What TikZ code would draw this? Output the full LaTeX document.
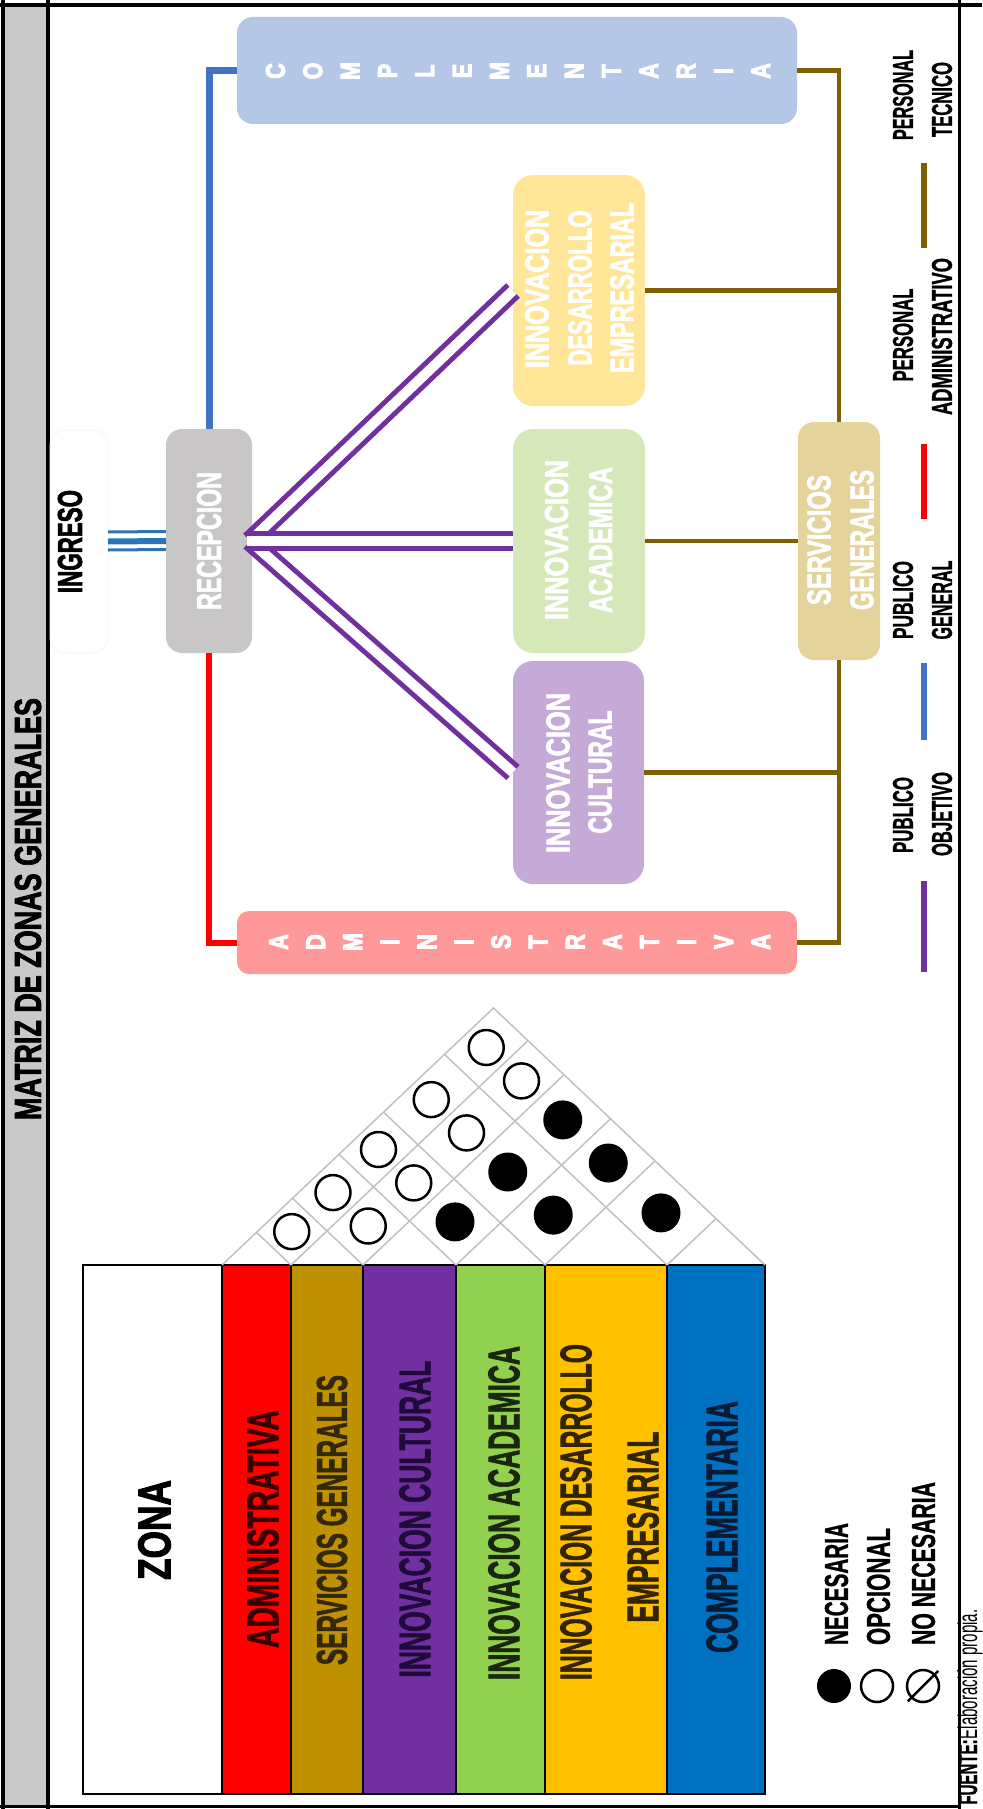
\documentclass[tikz,border=0pt]{standalone}
\usepackage{fontspec}
\setmainfont{Liberation Sans}
\newfontfamily\hvA{Liberation Sans}[BoldFeatures={FakeBold=2.5}]
\newfontfamily\hvB{Liberation Sans}[BoldFeatures={FakeBold=1.2}]
\newfontfamily\hvC{Liberation Sans}[BoldFeatures={FakeBold=2}]
\newfontfamily\hvD{Liberation Sans}[BoldFeatures={FakeBold=4}]
\usepackage{graphicx}
\newdimen\pxu \pxu=0.5pt
\newcommand\fitt[3]{\resizebox{#1\pxu}{#2\pxu}{\hvB\bfseries #3}}
\newcommand\fith[3]{\resizebox{#1\pxu}{#2\pxu}{\hvA\bfseries #3}}
\newcommand\fitz[3]{\resizebox{#1\pxu}{#2\pxu}{\hvC\bfseries #3}}
\newcommand\spl[1]{\scalebox{0.8}[1]{\fontsize{13.5pt}{14pt}\selectfont\hvD\bfseries #1}}
\definecolor{stripgray}{HTML}{C9C9C9}
\definecolor{compc}{HTML}{B4C7E7}
\definecolor{admc}{HTML}{FF9999}
\definecolor{recc}{HTML}{C8C6C6}
\definecolor{acadc}{HTML}{D5E8BA}
\definecolor{cultc}{HTML}{C5A9D7}
\definecolor{desac}{HTML}{FFE699}
\definecolor{servc}{HTML}{E4D39B}
\definecolor{lpurple}{HTML}{7030A0}
\definecolor{lblue}{HTML}{4472C4}
\definecolor{lred}{HTML}{FF0000}
\definecolor{lbrown}{HTML}{7F6000}
\definecolor{ingblue}{HTML}{2E75B6}
\definecolor{zred}{HTML}{FF0000}
\definecolor{zgold}{HTML}{BF9000}
\definecolor{zpurple}{HTML}{7030A0}
\definecolor{zgreen}{HTML}{92D050}
\definecolor{zyellow}{HTML}{FFC000}
\definecolor{zblue}{HTML}{0070C0}
\definecolor{gridc}{HTML}{C0C0C0}
\definecolor{tadm}{HTML}{3A0000}
\definecolor{tserv}{HTML}{33280A}
\definecolor{tcult}{HTML}{1F0A3A}
\definecolor{tacad}{HTML}{1A260E}
\definecolor{tdes}{HTML}{332400}
\definecolor{tcomp}{HTML}{0A1A33}
\begin{document}
\begin{tikzpicture}[x=0.5pt,y=-0.5pt,
  box/.style={rectangle, rounded corners=8pt, inner sep=0pt, outer sep=0pt},
  txt/.style={rotate=90, inner sep=0pt, outer sep=0pt},
  cell/.style={rectangle, draw=black, line width=0.75pt, inner sep=0pt, outer sep=0pt, minimum height=264.5pt},
  dbl/.style={draw=lpurple, line width=2.5pt, double=white, double distance=5pt},
  bluec/.style={draw=lblue, line width=3.5pt},
  redc/.style={draw=lred, line width=3pt},
  brownc/.style={draw=lbrown, line width=2.25pt},
  grid/.style={draw=gridc, line width=0.75pt},
  opn/.style={circle, draw=black, line width=1.25pt, fill=white, inner sep=0pt, minimum size=17.5pt},
  fil/.style={circle, fill=black, inner sep=0pt, minimum size=19.5pt}]
\useasboundingbox (0,0) rectangle (982,1809);
% frame
\fill[stripgray] (3,5) rectangle (48,1806);
\draw[line width=1.75pt] (0,5) -- (982,5);
\draw[line width=1.75pt] (3,0) -- (3,1809);
\draw[line width=1.75pt] (48,0) -- (48,1809);
\draw[line width=1.5pt] (959,0) -- (959,1809);
\draw[line width=1.5pt] (0,1806) -- (959,1806);
\node[txt] (title) at (28,909) {\fith{422}{26}{MATRIZ DE ZONAS GENERALES}};
% boxes
\node[box, fill=white, draw=gray!6, line width=0.5pt, minimum width=29pt, minimum height=111.5pt] (ingbox) at (79,541.5) {};
\node[box, fill=compc, minimum width=280pt, minimum height=53.5pt] (comp) at (517,70.5) {};
\node[box, fill=admc, rounded corners=6pt, minimum width=280pt, minimum height=31.5pt] (admin) at (517,942.5) {};
\node[box, fill=recc, minimum width=43pt, minimum height=112pt] (recep) at (209,541) {};
\node[box, fill=acadc, rounded corners=10pt, minimum width=66pt, minimum height=112pt] (acad) at (579,541) {};
\node[box, fill=cultc, rounded corners=10pt, minimum width=65.5pt, minimum height=111.5pt] (cult) at (578.5,772.5) {};
\node[box, fill=desac, rounded corners=10pt, minimum width=66pt, minimum height=115.5pt] (desa) at (579,290.5) {};
\node[box, fill=servc, minimum width=41pt, minimum height=119pt] (serv) at (839,541) {};
% connectors
\draw[bluec] (recep.north) |- (comp.west);
\draw[redc] (recep.south) |- (admin.west);
\draw[brownc] (comp.east) -| (serv.north);
\draw[brownc] (serv.south) |- (admin.east);
\draw[brownc] (acad.east) -- (serv.west);
\draw[brownc] (desa.east) -- (desa.east -| serv.north);
\draw[brownc] (cult.east) -- (cult.east -| serv.north);
\coordinate (hub) at ([xshift=-1pt]recep.east);
\draw[dbl] (hub) -- (desa.west);
\draw[dbl] (hub) -- (cult.west);
\draw[dbl] ([xshift=-2.5pt]recep.east) -- (acad.west);
% ingreso
\draw[ingblue, line width=1.5pt] ([yshift=4.75pt]ingbox.east) -- ([yshift=4.75pt]recep.west);
\draw[ingblue, line width=3pt] (ingbox.east) -- (recep.west);
\draw[ingblue, line width=1.5pt] ([yshift=-4.25pt]ingbox.east) -- ([yshift=-4.25pt]recep.west);
\node[txt] (ingt) at (70,541.5) {\fith{103}{24}{INGRESO}};
% box texts
\foreach \l [count=\i from 0] in {C,O,M,P,L,E,M,E,N,T,A,R,I,A}
  \node[txt, text=white] (cl\i) at ({275.5+37.33*\i},71) {\spl{\l}};
\foreach \l [count=\i from 0] in {A,D,M,I,N,I,S,T,R,A,T,I,V,A}
  \node[txt, text=white] (al\i) at ({278.6+37.09*\i},942) {\spl{\l}};
\node[txt, text=white] (rect) at (209,541) {\fith{138}{24}{RECEPCION}};
\node[txt, text=white] (acad1) at (556.5,540) {\fith{160}{23}{INNOVACION}};
\node[txt, text=white] (acad2) at (600.5,540) {\fith{146}{23}{ACADEMICA}};
\node[txt, text=white] (cult1) at (558,773) {\fith{160}{23}{INNOVACION}};
\node[txt, text=white] (cult2) at (600,772) {\fith{123}{23}{CULTURAL}};
\node[txt, text=white] (desa1) at (537,289) {\fith{158}{23}{INNOVACION}};
\node[txt, text=white] (desa2) at (580,288) {\fith{155}{23}{DESARROLLO}};
\node[txt, text=white] (desa3) at (622,288) {\fith{170}{23}{EMPRESARIAL}};
\node[txt, text=white] (serv1) at (819,540) {\fith{130}{23}{SERVICIOS}};
\node[txt, text=white] (serv2) at (862,540) {\fith{140}{23}{GENERALES}};
% legend right
\draw[lbrown, line width=3pt] (923.5,163) -- (923.5,248);
\draw[lred, line width=3pt] (923.5,444) -- (923.5,519);
\draw[lblue, line width=3pt] (923.5,663) -- (923.5,740);
\draw[lpurple, line width=3pt] (923.5,881) -- (923.5,972);
\node[txt] (lg1a) at (903,95) {\fitt{90}{20}{PERSONAL}};
\node[txt] (lg1b) at (942,99.5) {\fitt{75}{20}{TECNICO}};
\node[txt] (lg2a) at (903,335) {\fitt{93}{20}{PERSONAL}};
\node[txt] (lg2b) at (942,336.5) {\fitt{157}{20}{ADMINISTRATIVO}};
\node[txt] (lg3a) at (903,600) {\fitt{78}{20}{PUBLICO}};
\node[txt] (lg3b) at (942,600) {\fitt{79}{20}{GENERAL}};
\node[txt] (lg4a) at (903,815) {\fitt{76}{20}{PUBLICO}};
\node[txt] (lg4b) at (942,814) {\fitt{84}{20}{OBJETIVO}};
% zone table
\node[cell, fill=white, minimum width=69.5pt] (zona) at (152.5,1529.5) {};
\node[cell, fill=zred, minimum width=34.5pt] (z1) at (256.5,1529.5) {};
\node[cell, fill=zgold, minimum width=36pt] (z2) at (327,1529.5) {};
\node[cell, fill=zpurple, minimum width=46.5pt] (z3) at (409.5,1529.5) {};
\node[cell, fill=zgreen, minimum width=44.5pt] (z4) at (500.5,1529.5) {};
\node[cell, fill=zyellow, minimum width=61pt] (z5) at (606,1529.5) {};
\node[cell, fill=zblue, minimum width=49pt] (z6) at (716,1529.5) {};
\draw[line width=1.25pt] (zona.north west) rectangle (z6.south east);
\node[txt] (tz) at (154.5,1530) {\fith{100}{32}{ZONA}};
\node[txt, text=tadm] (tz1) at (263,1529) {\fitz{238}{31}{ADMINISTRATIVA}};
\node[txt, text=tserv] (tz2) at (332,1520) {\fitz{290}{30}{SERVICIOS GENERALES}};
\node[txt, text=tcult] (tz3) at (415,1519) {\fitz{317}{31}{INNOVACION CULTURAL}};
\node[txt, text=tacad] (tz4) at (504,1513) {\fitz{334}{31}{INNOVACION ACADEMICA}};
\node[txt, text=tdes] (tz5a) at (576,1512) {\fitz{336}{31}{INNOVACION DESARROLLO}};
\node[txt, text=tdes] (tz5b) at (643,1527) {\fitz{191}{31}{EMPRESARIAL}};
\node[txt, text=tcomp] (tz6) at (722,1527) {\fitz{252}{31}{COMPLEMENTARIA}};
% triangle grid
\foreach \b in {291,363,456,545,667}{
  \draw[grid] (\b,1265) -- ({(\b+765)/2},{1265-0.9466*(765-\b)/2});
  \draw[grid] (\b,1265) -- ({(\b+222)/2},{1265-0.9466*(\b-222)/2});
}
\draw[grid] (222,1265) -- (493.5,1008) -- (765,1265);
\foreach \x/\y [count=\i] in {291.75/1231.6, 333/1192.6, 378.5/1149.5, 431.25/1099.6, 486.25/1047.5, 368.25/1226, 413.75/1182.9, 466.5/1132.9, 521.5/1080.9}
  \node[opn] (o\i) at (\x,\y) {};
\foreach \x/\y [count=\i] in {455/1221.9, 507.75/1172, 562.75/1119.9, 553.25/1215.1, 608.25/1163, 661/1212.9}
  \node[fil] (f\i) at (\x,\y) {};
% legend bottom
\node[fil, minimum size=17pt] (lgn) at (834,1686) {};
\node[opn, minimum size=16pt] (lgo) at (877,1686) {};
\node[opn, minimum size=16pt] (lgx) at (923,1686) {};
\draw[line width=1.25pt] ([shift={(-1.5pt,-1.5pt)}]lgx.south west) -- ([shift={(1.5pt,1.5pt)}]lgx.north east);
\node[txt] (lt1) at (836.5,1584) {\fitt{122}{23}{NECESARIA}};
\node[txt] (lt2) at (878.5,1586.5) {\fitt{117}{23}{OPCIONAL}};
\node[txt] (lt3) at (923.5,1563.5) {\fitt{163}{23}{NO NECESARIA}};
\node[rotate=90, anchor=base west, inner sep=0pt] (fuente) at (977,1805) {\resizebox{195\pxu}{20\pxu}{{\hvB\bfseries FUENTE:}Elaboración propia.}};
\end{tikzpicture}
\end{document}
